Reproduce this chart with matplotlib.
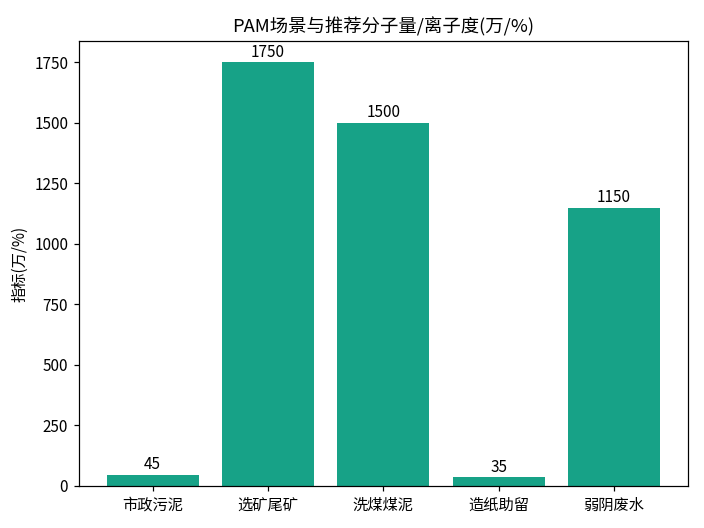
import matplotlib
matplotlib.use('Agg')
import matplotlib.pyplot as plt

plt.rcParams['font.family'] = ['Noto Sans CJK SC', 'DejaVu Sans']
plt.rcParams['axes.unicode_minus'] = False

scenes = ['市政污泥', '选矿尾矿', '洗煤煤泥', '造纸助留', '弱阴废水']
values = [45, 1750, 1500, 35, 1150]

fig, ax = plt.subplots(figsize=(6.4, 4.8), dpi=110)
bars = ax.bar(scenes, values, color='#17a287')
ax.bar_label(bars, labels=[str(v) for v in values], padding=1, fontsize=10)
ax.set_title('PAM场景与推荐分子量/离子度(万/%)')
ax.set_ylabel('指标(万/%)')
fig.subplots_adjust(left=0.112, right=0.977, top=0.922, bottom=0.08)
fig.savefig('out.png')
